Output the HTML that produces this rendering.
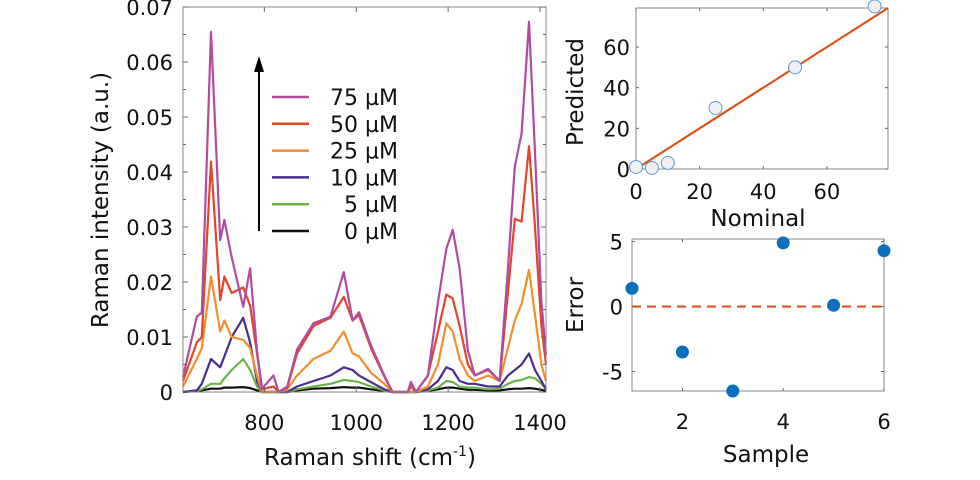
<!DOCTYPE html>
<html><head><meta charset="utf-8">
<style>
html,body{margin:0;padding:0;background:#fff;}
svg{display:block;font-family:"DejaVu Sans","Liberation Sans",sans-serif;}
</style></head>
<body>
<svg id="fig" width="980" height="480" viewBox="0 0 980 480"></svg>
<script>
// ---------- Data ----------
const wavenumbers=[623,653,664,684,704,713,729,754,769,784,795,820,831,850,871,907,944,973,992,1006,1032,1061,1079,1112,1119,1130,1156,1178,1196,1210,1225,1243,1258,1287,1312,1330,1345,1360,1376,1389,1403,1413];
const s75=[.0027,.0137,.0144,.0655,.0276,.0313,.0245,.0155,.0225,.0075,.0006,.003,0,.001,.0077,.0125,.0137,.0218,.013,.0145,.0085,.003,0,0,.0018,0,.003,.0164,.026,.0295,.0225,.0075,.003,.0042,.002,.0224,.041,.047,.0673,.0436,.0164,.0067];
const s50=[.002,.009,.01,.0419,.0167,.021,.018,.019,.0157,.007,.0005,.001,0,.0008,.007,.012,.0135,.0173,.013,.014,.008,.0028,0,0,.001,0,.003,.011,.0177,.017,.012,.005,.003,.004,.002,.018,.0315,.031,.0447,.03,.012,.005];
const s25=[.001,.006,.008,.021,.011,.013,.01,.0095,.008,.003,0,0,0,.0005,.003,.006,.0075,.011,.007,.0065,.0035,.0015,0,0,0,0,.001,.005,.0125,.011,.006,.003,.002,.003,.002,.008,.013,.016,.0222,.014,.005,.002];
const s10=[0,.0003,.0015,.006,.0045,.0065,.01,.0135,.009,.002,0,0,0,0,.001,.002,.003,.0045,.004,.003,.0018,.0005,0,0,0,0,.0005,.002,.0045,.004,.002,.0015,.0015,.001,.001,.003,.004,.005,.007,.004,.002,.0005];
const s5=[0,.0002,.0005,.0015,.0015,.0025,.004,.006,.004,.001,0,0,0,0,.0005,.001,.0015,.0022,.002,.0018,.001,.0003,0,0,0,0,.0003,.0008,.002,.0018,.001,.0008,.0008,.0005,.0006,.0015,.002,.0022,.0027,.0025,.0015,.0005];
const s0=[0,.0002,.0003,.0006,.0006,.0008,.0008,.0009,.0007,.0003,0,0,0,0,.0003,.0006,.0007,.0009,.0008,.0008,.0005,.0002,0,0,0,0,.0002,.0005,.0008,.0008,.0006,.0004,.0004,.0003,.0003,.0005,.0006,.0006,.0007,.0006,.0004,.0002];
const seriesLabels=["75 µM","50 µM","25 µM","10 µM","5 µM","0 µM"];
const seriesColors=["#b04ca0","#e2452b","#f28e2b","#4b2d8f","#6cb34a","#111111"];
const seriesData=[s75,s50,s25,s10,s5,s0];
const xTicks=[800,1000,1200,1400];
const yTicks=[0,0.01,0.02,0.03,0.04,0.05,0.06,0.07];
const yTickLabels=["0","0.01","0.02","0.03","0.04","0.05","0.06","0.07"];
const nominal=[0,5,10,25,50,75];
const predicted=[1,0.5,3,30,50,80];
const pxTicks=[0,20,40,60];
const pyTicks=[0,20,40,60];
const samples=[1,2,3,4,5,6];
const errors=[1.4,-3.5,-6.5,4.9,0.1,4.3];
const exTicks=[2,4,6];
const eyTicks=[-5,0,5];

const NS="http://www.w3.org/2000/svg";
const svg=document.getElementById('fig');
function el(tag,attrs,parent,text){const e=document.createElementNS(NS,tag);for(const k in attrs)e.setAttribute(k,attrs[k]);if(text!==undefined)e.textContent=text;(parent||svg).appendChild(e);return e;}
const TF=21, AF=23;

// ---------- Main plot ----------
const M={l:183,r:546,t:7,b:392,x0:623,x1:1413,y0:0,y1:0.07};
const mx=v=>M.l+(v-M.x0)/(M.x1-M.x0)*(M.r-M.l);
const my=v=>M.b-(v-M.y0)/(M.y1-M.y0)*(M.b-M.t);
const gMain=el('g',{});


seriesData.slice().reverse().forEach((d,ri)=>{
  const i=seriesData.length-1-ri;
  const p=el('polyline',{points:d.map((v,j)=>mx(wavenumbers[j]).toFixed(1)+','+my(v).toFixed(1)).join(' '),fill:'none',stroke:seriesColors[i],'stroke-width':2.2,'stroke-linejoin':'round'},gMain);
  
  
});
const box=el('rect',{x:M.l,y:M.t,width:M.r-M.l,height:M.b-M.t,fill:'none',stroke:'#888','stroke-width':1},gMain);


xTicks.forEach(v=>{
  el('line',{x1:mx(v),x2:mx(v),y1:M.b,y2:M.b-5,stroke:'#666'},gMain);
  el('line',{x1:mx(v),x2:mx(v),y1:M.t,y2:M.t+5,stroke:'#666'},gMain);
  const t=el('text',{x:mx(v),y:430,'text-anchor':'middle','font-size':TF,fill:'#111'},gMain,String(v));
  
  
});
for(let v=0;v<=0.07001;v+=0.005){
  const L=(Math.round(v*1000)%10===0)?5:3;
  el('line',{x1:M.l,x2:M.l+L,y1:my(v),y2:my(v),stroke:'#666'},gMain);
  el('line',{x1:M.r,x2:M.r-L,y1:my(v),y2:my(v),stroke:'#666'},gMain);
}
yTicks.forEach((v,i)=>{
  const t=el('text',{x:173,y:my(v)+8,'text-anchor':'end','font-size':TF,fill:'#111'},gMain,yTickLabels[i]);
  
  
});
const yt=el('text',{transform:'translate(108,200) rotate(-90)','text-anchor':'middle','font-size':AF,fill:'#111'},gMain,'Raman intensity (a.u.)');


const xt=el('text',{x:370,y:465,'text-anchor':'middle','font-size':AF,fill:'#111'},gMain);


xt.innerHTML='Raman shift (cm<tspan font-size="14" dy="-9">-1</tspan><tspan dy="9">)</tspan>';
// legend
const leg=el('g',{},gMain);


el('line',{x1:259,x2:259,y1:231,y2:68,stroke:'#000','stroke-width':2},leg);
el('polygon',{points:'259,56 254,72 264,72',fill:'#000'},leg);
seriesLabels.forEach((lab,i)=>{
  const y=97+i*26.8;
  const g=el('g',{},leg);
  
  
  el('line',{x1:272,x2:309,y1:y,y2:y,stroke:seriesColors[i],'stroke-width':2.5},g);
  el('text',{x:398,y:y+8,'text-anchor':'end','font-size':22,fill:'#111'},g,lab);
});

// ---------- Predicted vs nominal ----------
const P={l:636,r:888,t:8,b:169,x0:0,x1:79.2,y0:0,y1:79.2};
const px=v=>P.l+(v-P.x0)/(P.x1-P.x0)*(P.r-P.l);
const py=v=>P.b-(v-P.y0)/(P.y1-P.y0)*(P.b-P.t);
const gP=el('g',{});


const pb=el('rect',{x:P.l,y:P.t,width:P.r-P.l,height:P.b-P.t,fill:'none',stroke:'#888'},gP);


pxTicks.forEach(v=>{
  el('line',{x1:px(v),x2:px(v),y1:P.b,y2:P.b-3,stroke:'#666'},gP);
  el('line',{x1:px(v),x2:px(v),y1:P.t,y2:P.t+3,stroke:'#666'},gP);
  el('text',{x:px(v),y:199,'text-anchor':'middle','font-size':TF,fill:'#111'},gP,String(v));
});
pyTicks.forEach(v=>{
  el('line',{x1:P.l,x2:P.l+3,y1:py(v),y2:py(v),stroke:'#666'},gP);
  el('line',{x1:P.r,x2:P.r-3,y1:py(v),y2:py(v),stroke:'#666'},gP);
  el('text',{x:630,y:py(v)+8,'text-anchor':'end','font-size':TF,fill:'#111'},gP,String(v));
});
const fit=el('line',{x1:px(0),y1:py(0),x2:px(79.2),y2:py(79.2),stroke:'#d95319','stroke-width':2.2},gP);


nominal.forEach((n,i)=>{
  const c=el('circle',{cx:px(n),cy:py(predicted[i]),r:6.5,fill:'#f0f0f0',stroke:'#5b9bd5','stroke-width':1},gP);
  
  
});
const pyl=el('text',{transform:'translate(583,92) rotate(-90)','text-anchor':'middle','font-size':AF,fill:'#111'},gP,'Predicted');


const pxl=el('text',{x:758,y:226,'text-anchor':'middle','font-size':AF,fill:'#111'},gP,'Nominal');



// ---------- Error plot ----------
const E={l:632,r:884,t:239,b:391,x0:1,x1:6,y0:-6.5,y1:5.2};
const ex=v=>E.l+(v-E.x0)/(E.x1-E.x0)*(E.r-E.l);
const ey=v=>E.b-(v-E.y0)/(E.y1-E.y0)*(E.b-E.t);
const gE=el('g',{});


const eb=el('rect',{x:E.l,y:E.t,width:E.r-E.l,height:E.b-E.t,fill:'none',stroke:'#888'},gE);


exTicks.forEach(v=>{
  el('line',{x1:ex(v),x2:ex(v),y1:E.b,y2:E.b-3,stroke:'#666'},gE);
  el('line',{x1:ex(v),x2:ex(v),y1:E.t,y2:E.t+3,stroke:'#666'},gE);
  el('text',{x:ex(v),y:429,'text-anchor':'middle','font-size':TF,fill:'#111'},gE,String(v));
});
eyTicks.forEach(v=>{
  el('line',{x1:E.l,x2:E.l+3,y1:ey(v),y2:ey(v),stroke:'#666'},gE);
  el('line',{x1:E.r,x2:E.r-3,y1:ey(v),y2:ey(v),stroke:'#666'},gE);
  el('text',{x:623,y:ey(v)+8,'text-anchor':'end','font-size':TF,fill:'#111'},gE,String(v));
});
const zl=el('line',{x1:E.l,x2:E.r,y1:ey(0),y2:ey(0),stroke:'#d95319','stroke-width':2.2,'stroke-dasharray':'9,6'},gE);


samples.forEach((s,i)=>{
  const c=el('circle',{cx:ex(s),cy:ey(errors[i]),r:6.5,fill:'#0a6fbd'},gE);
  
  
});
const eyl=el('text',{transform:'translate(583,305) rotate(-90)','text-anchor':'middle','font-size':AF,fill:'#111'},gE,'Error');


const exl=el('text',{x:766,y:462,'text-anchor':'middle','font-size':AF,fill:'#111'},gE,'Sample');


</script>
</body></html>
